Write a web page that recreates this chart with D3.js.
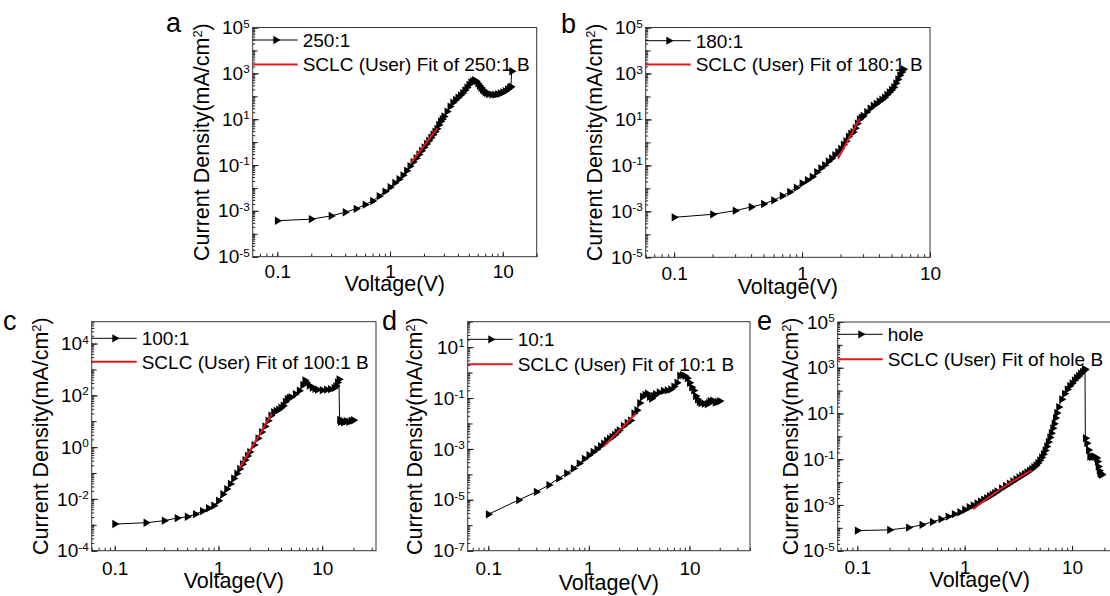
<!DOCTYPE html>
<html lang="en">
<head>
<meta charset="UTF-8">
<title>J-V curves with SCLC fits</title>
<script src="https://d3js.org/d3.v7.min.js"></script>
<style>
  body { margin: 0; background: #fff; }
  svg { display: block; font-family: Arial, "Liberation Sans", sans-serif; }
</style>
</head>
<body>
<svg id="chart" width="1110" height="596"></svg>
<script>
// voltage (V) and log10 of current density (mA/cm2)
const voltA = [0.1,0.2,0.3,0.4,0.5,0.6,0.7,0.8,0.9,1.0,1.1,1.2,1.3,1.4,1.5,1.6,1.7,1.8,1.9,2.0,
  2.1,2.2,2.3,2.4,2.5,2.6,2.7,2.8,2.9,3.0,3.2,3.4,3.6,3.8,4.0,4.2,4.4,4.6,4.8,5.0,5.2,5.4,5.6,5.8,
  6.0,6.2,6.4,6.6,6.8,7.0,7.2,7.5,8.0,8.5,9.0,9.5,10,10.5,11,11.5,11.8,12];
const logJA = [-3.43,-3.36,-3.22,-3.06,-2.91,-2.73,-2.57,-2.36,-2.16,-1.97,-1.78,-1.62,-1.45,-1.25,-1.05,-0.87,-0.70,-0.54,-0.38,-0.23,
  -0.08,0.06,0.19,0.32,0.45,0.58,0.75,0.90,1.00,1.12,1.33,1.55,1.72,1.84,1.94,2.04,2.14,2.26,2.38,2.50,2.60,2.66,2.70,2.66,
  2.56,2.46,2.37,2.29,2.23,2.18,2.14,2.10,2.07,2.07,2.09,2.12,2.17,2.22,2.30,2.37,2.42,3.09];

const voltB = [0.1,0.2,0.3,0.4,0.5,0.6,0.7,0.8,0.9,1.0,1.1,1.2,1.3,1.4,1.5,1.6,1.7,1.8,1.9,2.0,
  2.1,2.2,2.3,2.4,2.5,2.6,2.7,2.8,2.9,3.0,3.2,3.4,3.6,3.8,4.0,4.2,4.4,4.6,4.8,5.0,5.2,5.4,5.6,5.8,6.0,6.2];
const logJB = [-3.26,-3.13,-2.97,-2.81,-2.68,-2.52,-2.33,-2.16,-1.97,-1.78,-1.64,-1.50,-1.30,-1.13,-0.99,-0.83,-0.70,-0.55,-0.42,-0.28,
  -0.10,0.05,0.25,0.38,0.45,0.62,0.82,1.00,1.08,1.15,1.32,1.47,1.60,1.68,1.78,1.86,1.95,2.07,2.18,2.28,2.40,2.57,2.74,2.92,3.06,3.18];

const voltC = [0.1,0.2,0.3,0.4,0.5,0.6,0.7,0.8,0.9,1.0,1.1,1.2,1.3,1.4,1.5,1.6,1.7,1.8,1.9,2.0,
  2.2,2.4,2.6,2.8,3.0,3.2,3.4,3.6,3.8,4.0,4.2,4.4,4.6,4.8,5.0,
  5.5,6.0,6.5,6.8,7.0,7.5,8.0,8.5,9.0,10,11,12,13,13.5,14,14.5,14.7,15,15.5,16,17,18,19,20];
const logJC = [-2.97,-2.92,-2.84,-2.74,-2.69,-2.59,-2.47,-2.36,-2.26,-2.07,-1.82,-1.62,-1.42,-1.21,-1.02,-0.84,-0.66,-0.50,-0.34,-0.19,
  0.08,0.34,0.58,0.80,1.02,1.22,1.35,1.40,1.45,1.52,1.60,1.75,1.85,1.90,1.93,
  2.05,2.18,2.40,2.58,2.50,2.38,2.30,2.25,2.22,2.20,2.22,2.24,2.28,2.35,2.50,2.62,1.05,0.98,1.02,0.96,1.00,0.98,1.02,1.04];

const voltD = [0.1,0.2,0.3,0.4,0.5,0.6,0.7,0.8,0.9,1.0,1.1,1.2,1.3,1.4,1.5,1.6,1.7,1.8,1.9,2.0,
  2.2,2.4,2.6,2.8,3.0,3.2,3.4,3.6,3.8,4.0,4.2,4.4,4.6,
  5.0,5.5,6.0,6.5,7.0,7.5,8.0,8.5,9.0,9.5,10,10.5,11,11.5,12,12.5,13,14,15,15.5,16,17,18,19,20];
const logJD = [-5.57,-5.01,-4.69,-4.42,-4.16,-3.96,-3.77,-3.57,-3.39,-3.25,-3.12,-3.01,-2.89,-2.79,-2.68,-2.60,-2.53,-2.45,-2.35,-2.27,
  -2.10,-1.98,-1.88,-1.60,-1.48,-1.20,-0.95,-0.88,-0.82,-0.95,-1.02,-0.92,-0.85,
  -0.78,-0.72,-0.70,-0.66,-0.55,-0.40,-0.12,-0.10,-0.13,-0.22,-0.40,-0.58,-0.70,-0.92,-1.05,-1.15,-1.20,-1.22,-1.24,-1.20,-1.12,-1.10,-1.18,-1.15,-1.12];

const voltE = [0.1,0.2,0.3,0.4,0.5,0.6,0.7,0.8,0.9,1.0,1.1,1.2,1.3,1.4,1.5,1.6,1.7,1.8,1.9,2.0,
  2.2,2.4,2.6,2.8,3.0,3.2,3.4,3.6,3.8,4.0,4.2,4.4,4.6,4.8,5.0,5.2,5.4,5.6,5.8,6.0,6.2,6.4,6.6,6.8,7.0,7.2,
  7.5,8.0,8.5,9.0,9.5,10,10.5,11,11.5,12,12.5,13,13.2,13.3,13.7,14.2,14.6,15.2,15.7,16.3,16.9,17.2,17.5,17.9,18.2,18.6,18.9];
const logJE = [-4.12,-4.09,-3.99,-3.87,-3.74,-3.62,-3.51,-3.40,-3.32,-3.21,-3.10,-3.02,-2.93,-2.85,-2.77,-2.70,-2.62,-2.55,-2.48,-2.41,
  -2.28,-2.17,-2.07,-1.97,-1.88,-1.80,-1.72,-1.65,-1.58,-1.50,-1.43,-1.35,-1.27,-1.17,-1.05,-0.92,-0.78,-0.62,-0.44,-0.25,-0.05,0.14,0.35,0.55,0.80,1.02,
  1.28,1.62,1.86,2.05,2.20,2.32,2.45,2.55,2.64,2.74,2.82,2.90,2.93,-0.08,-0.30,-0.60,-0.88,-0.90,-0.88,-0.90,-0.95,-1.10,-1.32,-1.50,-1.61,-1.65,-1.68];

// SCLC fit lines (voltage, log10 J)
const fitVoltA = [1.53, 2.63], fitLogA = [-0.92, 0.61];
const fitVoltB = [1.91, 2.82], fitLogB = [-0.70, 1.04];
const fitVoltC = [1.59, 3.29], fitLogC = [-0.82, 1.30];
const fitVoltD = [1.39, 2.94], fitLogD = [-2.92, -1.61];
const fitVoltE = [1.2, 1.5, 2.0, 3.0, 4.2], fitLogE = [-3.18, -2.84, -2.40, -1.88, -1.49];

const seriesNames = ["250:1", "180:1", "100:1", "10:1", "hole"];
const xTickLabels = [0.1, 1, 10];
const yExpsWide = [-5, -3, -1, 1, 3, 5];
const yExpsC = [-4, -2, 0, 2, 4];
const yExpsD = [-7, -5, -3, -1, 1];

const panels = [
  { letter: "a", letterAt: [166, 32], name: seriesNames[0], volt: voltA, logJ: logJA, fitV: fitVoltA, fitL: fitLogA,
    box: [252.7, 27.5, 536.7, 256.7], xDomain: [0.0605, 20], yDomain: [1e-5, 1e5], yExps: yExpsWide,
    legend: [12.5, 37], xLabelPad: 8, xTitleDy: 34, yTitleDx: -44 },
  { letter: "b", letterAt: [561, 33], name: seriesNames[1], volt: voltB, logJ: logJB, fitV: fitVoltB, fitL: fitLogB,
    box: [645.7, 27.5, 930, 257.3], xDomain: [0.06, 10], yDomain: [1e-5, 1e5], yExps: yExpsWide,
    legend: [13.2, 37], xLabelPad: 9, xTitleDy: 37, yTitleDx: -44 },
  { letter: "c", letterAt: [3, 330], name: seriesNames[2], volt: voltC, logJ: logJC, fitV: fitVoltC, fitL: fitLogC,
    box: [91.7, 321.7, 376, 550.7], xDomain: [0.06, 33], yDomain: [1e-4, 7e4], yExps: yExpsC,
    legend: [16.6, 40], xLabelPad: 11, xTitleDy: 37.5, yTitleDx: -44 },
  { letter: "d", letterAt: [382, 330], name: seriesNames[3], volt: voltD, logJ: logJD, fitV: fitVoltD, fitL: fitLogD,
    box: [467.7, 321.7, 750, 550.7], xDomain: [0.0624, 40], yDomain: [1e-7, 1e2], yExps: yExpsD,
    legend: [17.6, 42.6], xLabelPad: 11, xTitleDy: 39, yTitleDx: -46 },
  { letter: "e", letterAt: [757, 330], name: seriesNames[4], volt: voltE, logJ: logJE, fitV: fitVoltE, fitL: fitLogE,
    box: [837.7, 322, 1121.7, 550.7], xDomain: [0.0657, 29], yDomain: [1e-5, 1e5], yExps: yExpsWide,
    legend: [12.3, 37.3], xLabelPad: 10, xTitleDy: 36, yTitleDx: -40 }
];

const TICK_FONT = 19, LEGEND_FONT = 19, TITLE_FONT = 21.5;
const svg = d3.select("#chart");
const marker = d3.symbol().type(d3.symbolTriangle).size(30)();

function logTicks(domain) {
  const out = [];
  const lo = Math.floor(Math.log10(domain[0])), hi = Math.ceil(Math.log10(domain[1]));
  for (let n = lo; n <= hi; n++) {
    for (let k = 1; k <= 9; k++) {
      const v = k * Math.pow(10, n);
      if (v >= domain[0] * 0.999 && v <= domain[1] * 1.001) out.push(v);
    }
  }
  return out;
}

function drawPanel(p) {
  const [x0, y0, x1, y1] = p.box;
  const x = d3.scaleLog().domain(p.xDomain).range([x0, x1]);
  const y = d3.scaleLog().domain(p.yDomain).range([y1, y0]);
  const g = svg.append("g");

  // ticks point inward, Origin style
  const xMinor = logTicks(p.xDomain);
  g.append("g").attr("transform", `translate(0,${y1})`)
    .call(d3.axisBottom(x).tickValues(xMinor).tickSizeInner(-3).tickSizeOuter(0).tickFormat(""))
    .call(a => a.select(".domain").remove());
  g.append("g").attr("transform", `translate(0,${y1})`)
    .call(d3.axisBottom(x).tickValues(xTickLabels).tickSizeInner(-5).tickSizeOuter(0)
      .tickPadding(p.xLabelPad).tickFormat(d3.format("~g")))
    .attr("font-family", null).attr("font-size", null)
    .call(a => a.select(".domain").remove())
    .call(a => a.selectAll("text").style("font-size", TICK_FONT + "px").attr("fill", "#000"));

  const yMinor = logTicks(p.yDomain);
  const yDecades = yMinor.filter(v => Math.abs(Math.log10(v) - Math.round(Math.log10(v))) < 1e-9);
  g.append("g").attr("transform", `translate(${x0},0)`)
    .call(d3.axisLeft(y).tickValues(yMinor).tickSizeInner(-2.5).tickSizeOuter(0).tickFormat(""))
    .call(a => a.select(".domain").remove());
  g.append("g").attr("transform", `translate(${x0},0)`)
    .call(d3.axisLeft(y).tickValues(yDecades).tickSizeInner(-5).tickSizeOuter(0).tickFormat(""))
    .call(a => a.select(".domain").remove());
  g.append("g").attr("transform", `translate(${x0},0)`)
    .call(d3.axisLeft(y).tickValues(p.yExps.map(e => Math.pow(10, e))).tickSizeInner(-6).tickSizeOuter(0)
      .tickPadding(3).tickFormat(""))
    .attr("font-family", null).attr("font-size", null)
    .call(a => a.select(".domain").remove())
    .call(a => a.selectAll(".tick text").each(function (d) {
      const t = d3.select(this).style("font-size", TICK_FONT + "px").attr("fill", "#000");
      t.text("10");
      t.append("tspan").attr("dy", "-0.55em").style("font-size", "0.62em").text(Math.round(Math.log10(d)));
    }));

  g.selectAll(".tick line").attr("stroke", "#222");

  // frame
  g.append("rect").attr("x", x0).attr("y", y0).attr("width", x1 - x0).attr("height", y1 - y0)
    .attr("fill", "none").attr("stroke", "#333").attr("stroke-width", 1);

  // measured curve
  const pts = d3.zip(p.volt, p.logJ).map(([v, l]) => ({ v, j: Math.pow(10, l) }));
  const line = d3.line().x(d => x(d.v)).y(d => y(d.j));
  g.append("path").datum(pts).attr("d", line).attr("fill", "none").attr("stroke", "#000").attr("stroke-width", 1);
  g.selectAll(".pt").data(pts).join("path").attr("class", "pt")
    .attr("d", marker).attr("fill", "#000")
    .attr("transform", d => `translate(${x(d.v)},${y(d.j)}) rotate(90)`);

  // SCLC fit
  const fit = d3.zip(p.fitV, p.fitL).map(([v, l]) => ({ v, j: Math.pow(10, l) }));
  g.append("path").datum(fit).attr("d", line).attr("fill", "none").attr("stroke", "#e3181f").attr("stroke-width", 2);

  // legend
  const ly1 = y0 + p.legend[0], ly2 = y0 + p.legend[1];
  g.append("line").attr("x1", x0).attr("x2", x0 + 45).attr("y1", ly1).attr("y2", ly1).attr("stroke", "#000");
  g.append("path").attr("d", marker).attr("fill", "#000").attr("transform", `translate(${x0 + 23},${ly1}) rotate(90)`);
  g.append("text").attr("x", x0 + 50).attr("y", ly1).attr("dy", "0.36em").style("font-size", LEGEND_FONT + "px").text(p.name);
  g.append("line").attr("x1", x0).attr("x2", x0 + 45).attr("y1", ly2).attr("y2", ly2).attr("stroke", "#e3181f").attr("stroke-width", 2);
  g.append("text").attr("x", x0 + 50).attr("y", ly2).attr("dy", "0.36em").style("font-size", LEGEND_FONT + "px")
    .text(`SCLC (User) Fit of ${p.name} B`);

  // axis titles
  g.append("text").attr("x", (x0 + x1) / 2).attr("y", y1 + p.xTitleDy).attr("text-anchor", "middle")
    .style("font-size", TITLE_FONT + "px").text("Voltage(V)");
  const yt = g.append("text").attr("transform", `translate(${x0 + p.yTitleDx},${(y0 + y1) / 2}) rotate(-90)`)
    .attr("text-anchor", "middle").style("font-size", TITLE_FONT + "px");
  yt.append("tspan").text("Current Density(mA/cm");
  yt.append("tspan").attr("dy", "-0.5em").style("font-size", "0.6em").text("2");
  yt.append("tspan").attr("dy", "0.3em").text(")");

  svg.append("text").attr("x", p.letterAt[0]).attr("y", p.letterAt[1]).style("font-size", "27px").text(p.letter);
}

panels.forEach(drawPanel);
</script>
</body>
</html>
